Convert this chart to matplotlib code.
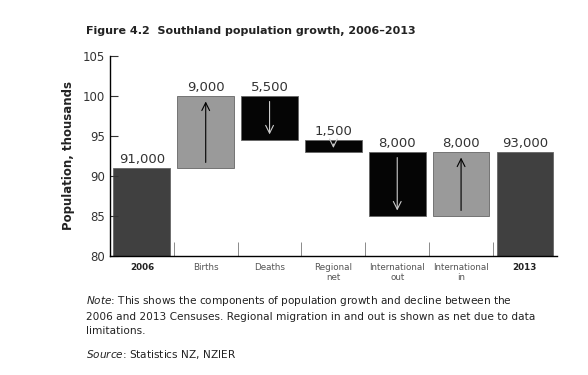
import numpy as np
import matplotlib.pyplot as plt

categories = ['2006', 'Births', 'Deaths', 'Regional\nnet', 'International\nout', 'International\nin', '2013']
bottoms = [80, 91, 94.5, 93, 85, 85, 80]
tops = [91, 100, 100, 94.5, 93, 93, 93]
labels = ['91,000', '9,000', '5,500', '1,500', '8,000', '8,000', '93,000']
direction = [0, 1, -1, -1, -1, 1, 0]
colors = ['#404040', '#9a9a9a', '#050505', '#050505', '#050505', '#9a9a9a', '#404040']

fig = plt.figure(figsize=(5.88, 3.75), dpi=100)
ax = fig.add_axes([0.187, 0.317, 0.76, 0.534])

x = np.arange(len(categories))
heights = np.array(tops) - np.array(bottoms)
ax.bar(x, heights, bottom=bottoms, width=0.89, color=colors, edgecolor='#666666', linewidth=0.6)

for i in range(len(x)):
    ax.text(x[i], tops[i] + 0.2, labels[i], ha='center', va='bottom', fontsize=9.5, color='#333333')
    if direction[i] != 0:
        acol = 'black' if colors[i] == '#9a9a9a' else '#cccccc'
        pad = 0.35 if heights[i] > 3 else 0.15
        if direction[i] > 0:
            start, end = bottoms[i] + pad, tops[i] - pad
        else:
            start, end = tops[i] - pad, bottoms[i] + pad
        ax.annotate('', xy=(x[i], end), xytext=(x[i], start),
                    arrowprops=dict(arrowstyle='->', color=acol, lw=0.8, mutation_scale=14))

ax.set_xlim(-0.5, len(x) - 0.5)
ax.set_ylim(80, 105)
ax.set_yticks([80, 85, 90, 95, 100, 105])
ax.tick_params(axis='y', direction='in', length=6, labelsize=8.5, colors='#333333', width=0.8)
ax.set_xticks(x)
ax.set_xticklabels(categories)
ax.tick_params(axis='x', length=0, labelsize=6.3, colors='#555555', pad=5)
for i in [0, len(x) - 1]:
    ax.get_xticklabels()[i].set_fontweight('bold')
    ax.get_xticklabels()[i].set_color('#222222')
ax.set_xticks(np.arange(0.5, len(x) - 1, 1), minor=True)
ax.tick_params(axis='x', which='minor', direction='in', length=10, width=0.6, color='#777777')
ax.spines['top'].set_visible(False)
ax.spines['right'].set_visible(False)
ax.spines['left'].set_linewidth(1)
ax.spines['bottom'].set_linewidth(1)
ax.set_ylabel('Population, thousands', fontsize=8.5, fontweight='bold', color='#222222', labelpad=6)

fig.text(0.146, 0.91, 'Figure 4.2  Southland population growth, 2006\u20132013',
         fontsize=8, fontweight='bold', color='#222222')
fig.text(0.146, 0.215, r'$\it{Note}$: This shows the components of population growth and decline between the'
         '\n2006 and 2013 Censuses. Regional migration in and out is shown as net due to data\nlimitations.',
         fontsize=7.6, color='#222222', va='top', linespacing=1.45)
fig.text(0.146, 0.045, r'$\it{Source}$: Statistics NZ, NZIER', fontsize=7.6, color='#222222')

fig.savefig('out.png', dpi=100)
